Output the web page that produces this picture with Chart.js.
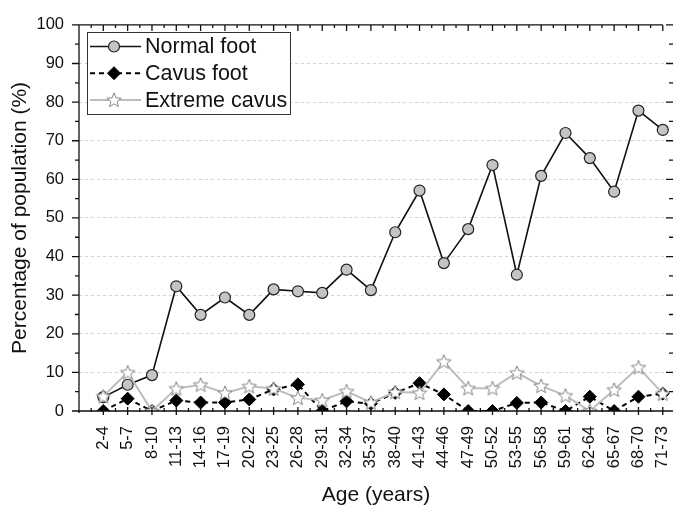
<!DOCTYPE html>
<html>
<head>
<meta charset="utf-8">
<script src="https://cdn.jsdelivr.net/npm/chart.js@4.4.0/dist/chart.umd.min.js"></script>
<style>
html,body{margin:0;padding:0;background:#fff}
#c{display:block}
</style>
</head>
<body>
<canvas id="c" width="673" height="508"></canvas>
<script>
// age groups and percentages
const ageGroups = ['2-4','5-7','8-10','11-13','14-16','17-19','20-22','23-25','26-28','29-31','32-34','35-37',
  '38-40','41-43','44-46','47-49','50-52','53-55','56-58','59-61','62-64','65-67','68-70','71-73'];
const normalFoot = [3.6,6.8,9.3,32.3,24.9,29.4,24.9,31.5,31.0,30.6,36.6,31.3,
  46.3,57.1,38.3,47.1,63.7,35.3,60.9,72.0,65.5,56.8,77.8,72.8];
const cavusFoot = [0,3.2,0,2.7,2.2,2.2,3.0,5.6,6.9,0,2.5,1.9,
  4.7,7.2,4.3,0,0,2.1,2.2,0,3.7,0,3.7,4.5];
const extremeCavus = [3.8,10.0,0,5.8,6.8,4.7,6.4,5.8,3.4,2.8,5.1,2.2,
  4.9,4.7,12.8,5.9,5.9,9.9,6.5,4.0,0,5.5,11.3,4.5];
const yMin = 0, yMax = 100, yStep = 10;

const FONT = '"Liberation Sans", Arial, sans-serif';
Chart.defaults.font.family = FONT;
Chart.defaults.color = '#111';

// five point star used as point marker
function makeStar(){
  const c=document.createElement('canvas'); c.width=18; c.height=18;
  const g=c.getContext('2d');
  g.beginPath();
  for(let i=0;i<10;i++){
    const r = i%2===0 ? 7.6 : 3.3;
    const a = -Math.PI/2 + i*Math.PI/5;
    const x=9+r*Math.cos(a), y=9.6+r*Math.sin(a);
    if(i===0) g.moveTo(x,y); else g.lineTo(x,y);
  }
  g.closePath();
  g.fillStyle='#fff'; g.fill();
  g.strokeStyle='#858585'; g.lineWidth=1; g.stroke();
  return c;
}
const starImg = makeStar();

const toPts = arr => arr.map((v,i)=>({x:i,y:v}));

const datasets = [
  {label:'Normal foot', data:toPts(normalFoot), borderColor:'#111', borderWidth:1.6,
   pointStyle:'circle', pointRadius:5.5, pointBackgroundColor:'#c4c4c4', pointBorderColor:'#222', pointBorderWidth:1.2, order:2},
  {label:'Cavus foot', data:toPts(cavusFoot), borderColor:'#000', borderWidth:2, borderDash:[5,4],
   pointStyle:'rectRot', pointRadius:6.5, pointBackgroundColor:'#000', pointBorderColor:'#000', pointBorderWidth:1, order:1},
  {label:'Extreme cavus', data:toPts(extremeCavus), borderColor:'#bdbdbd', borderWidth:2,
   pointStyle:starImg, pointRadius:8, order:0}
];

// axis box, in/out ticks and the boxed legend
const framePlugin = {
  id:'frame',
  afterDraw(chart){
    const {ctx, chartArea:a, scales:{x, y}} = chart;
    ctx.save();
    ctx.strokeStyle='#111'; ctx.lineWidth=1.3;
    const lastX = x.getPixelForValue(ageGroups.length-1);
    ctx.beginPath();
    ctx.moveTo(a.left, a.top); ctx.lineTo(a.left, a.bottom+2);
    ctx.moveTo(a.left-7, a.bottom); ctx.lineTo(a.right, a.bottom);
    ctx.moveTo(a.left, a.top); ctx.lineTo(lastX, a.top);
    // y ticks: out on left, in on right
    for(let v=yMin; v<=yMax; v+=yStep/2){
      const py=y.getPixelForValue(v), major = v%yStep===0;
      const len = major?7:4;
      ctx.moveTo(a.left-len, py); ctx.lineTo(a.left, py);
      ctx.moveTo(a.right-len, py); ctx.lineTo(a.right, py);
    }
    // x ticks: crossing at bottom, in at top
    for(let i=-0.5;i<ageGroups.length;i+=0.5){
      const px=x.getPixelForValue(i), major = Number.isInteger(i);
      ctx.moveTo(px, a.bottom-(major?4:3)); ctx.lineTo(px, a.bottom+(major?4:1));
      ctx.moveTo(px, a.top); ctx.lineTo(px, a.top+(major?6:3));
    }
    ctx.stroke();

    // legend
    const bx=87.5, by=32.5, bw=203, bh=82;
    ctx.fillStyle='#fff'; ctx.fillRect(bx,by,bw,bh);
    ctx.strokeStyle='#333'; ctx.lineWidth=1; ctx.strokeRect(bx,by,bw,bh);
    const rows=[datasets[0],datasets[1],datasets[2]];
    rows.forEach((ds,i)=>{
      const ry = 46.5 + i*26.7;
      ctx.save();
      ctx.strokeStyle=ds.borderColor; ctx.lineWidth=ds.borderWidth;
      ctx.setLineDash(ds.borderDash||[]);
      ctx.beginPath(); ctx.moveTo(90, ry); ctx.lineTo(141, ry); ctx.stroke();
      ctx.setLineDash([]);
      ctx.fillStyle=ds.pointBackgroundColor||'#fff';
      ctx.strokeStyle=ds.pointBorderColor||ds.borderColor;
      ctx.lineWidth=ds.pointBorderWidth||1;
      Chart.helpers.drawPoint(ctx,{pointStyle:ds.pointStyle, radius:ds.pointRadius, rotation:0, borderWidth:ds.pointBorderWidth||1}, 114, ry);
      ctx.restore();
      ctx.fillStyle='#111'; ctx.font='21.5px '+FONT;
      ctx.textBaseline='middle'; ctx.textAlign='left';
      ctx.fillText(ds.label, 145, ry+1);
    });
    ctx.restore();
  }
};

new Chart(document.getElementById('c'), {
  type:'line',
  data:{datasets},
  options:{
    responsive:false,
    animation:false,
    layout:{autoPadding:false, padding:{top:20, right:0, left:0, bottom:0}},
    plugins:{legend:{display:false}, tooltip:{enabled:false}},
    elements:{line:{tension:0}},
    scales:{
      x:{
        type:'linear', min:-1, max:23.42,
        afterFit(s){ s.height = 97; s.paddingLeft = 0; s.paddingRight = 0; },
        afterBuildTicks(s){ s.ticks = ageGroups.map((_,i)=>({value:i})); },
        grid:{display:false, drawTicks:false},
        border:{display:false},
        ticks:{autoSkip:false, maxRotation:90, minRotation:90, padding:15, color:'#111',
          font:{size:16.5}, callback:v => ageGroups[v] ?? ''},
        title:{display:true, text:'Age (years)', font:{size:21}, color:'#111', padding:{top:0,bottom:0}}
      },
      y:{
        min:yMin, max:yMax,
        afterFit(s){ s.width = 79; },
        grid:{drawTicks:false, lineWidth:1,
          color: c => (c.tick && (c.tick.value===yMin || c.tick.value===yMax)) ? 'rgba(0,0,0,0)' : '#d2d2d2'},
        border:{display:false, dash:[3,3]},
        ticks:{stepSize:yStep, padding:15, color:'#111', font:{size:16.5}},
        title:{display:true, text:'Percentage of population (%)', font:{size:21}, color:'#111', padding:{top:8,bottom:0}}
      }
    }
  },
  plugins:[framePlugin]
});
</script>
</body>
</html>
